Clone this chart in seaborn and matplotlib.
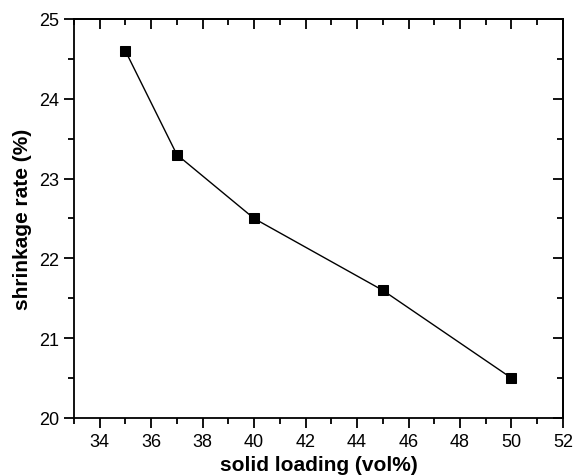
import matplotlib
matplotlib.use("Agg")
import matplotlib.pyplot as plt
import pandas as pd
import seaborn as sns
from matplotlib.ticker import MultipleLocator, NullFormatter

solid_loading = [35, 37, 40, 45, 50]
shrinkage = [24.6, 23.3, 22.5, 21.6, 20.5]

df = pd.DataFrame({"solid_loading": solid_loading, "shrinkage": shrinkage})

sns.set_style("ticks")
plt.rcParams["font.family"] = ["Liberation Sans", "DejaVu Sans"]
plt.rcParams["text.color"] = "black"
plt.rcParams["axes.labelcolor"] = "black"

fig = plt.figure(figsize=(5.73, 4.77), dpi=100)
ax = fig.add_axes([0.129, 0.1216, 0.8535, 0.8365])

sns.lineplot(data=df, x="solid_loading", y="shrinkage", ax=ax, color="black",
             linewidth=1.0, marker="s", markersize=6.5, markeredgecolor="black",
             markerfacecolor="black")

ax.set_xlim(33, 52)
ax.set_ylim(20, 25)
ax.xaxis.set_major_locator(MultipleLocator(2))
ax.xaxis.set_minor_locator(MultipleLocator(1))
ax.yaxis.set_major_locator(MultipleLocator(1))
ax.yaxis.set_minor_locator(MultipleLocator(0.5))

for side in ["left", "right", "top", "bottom"]:
    ax.spines[side].set_linewidth(1.3)
    ax.spines[side].set_color("black")

ax.tick_params(which="major", length=7, width=1.3, labelsize=13, colors="black",
               direction="out", top=False, right=False)
ax.tick_params(which="minor", length=4, width=1.3, colors="black",
               direction="out", top=False, right=False)

# inward ticks on top and right, no labels
top = ax.secondary_xaxis("top")
top.xaxis.set_major_locator(MultipleLocator(2))
top.xaxis.set_minor_locator(MultipleLocator(1))
top.xaxis.set_major_formatter(NullFormatter())
top.tick_params(which="major", direction="in", length=7, width=1.3, colors="black")
top.tick_params(which="minor", direction="in", length=4, width=1.3, colors="black")
top.spines["top"].set_linewidth(1.3)
top.spines["top"].set_color("black")

right = ax.secondary_yaxis("right")
right.yaxis.set_major_locator(MultipleLocator(1))
right.yaxis.set_minor_locator(MultipleLocator(0.5))
right.yaxis.set_major_formatter(NullFormatter())
right.tick_params(which="major", direction="in", length=7, width=1.3, colors="black")
right.tick_params(which="minor", direction="in", length=4, width=1.3, colors="black")
right.spines["right"].set_linewidth(1.3)
right.spines["right"].set_color("black")

ax.set_xlabel("solid loading (vol%)", fontsize=15, fontweight="bold", labelpad=4, color="black")
ax.set_ylabel("shrinkage rate (%)", fontsize=15, fontweight="bold", labelpad=5, color="black")

fig.savefig("out.png", dpi=100)
